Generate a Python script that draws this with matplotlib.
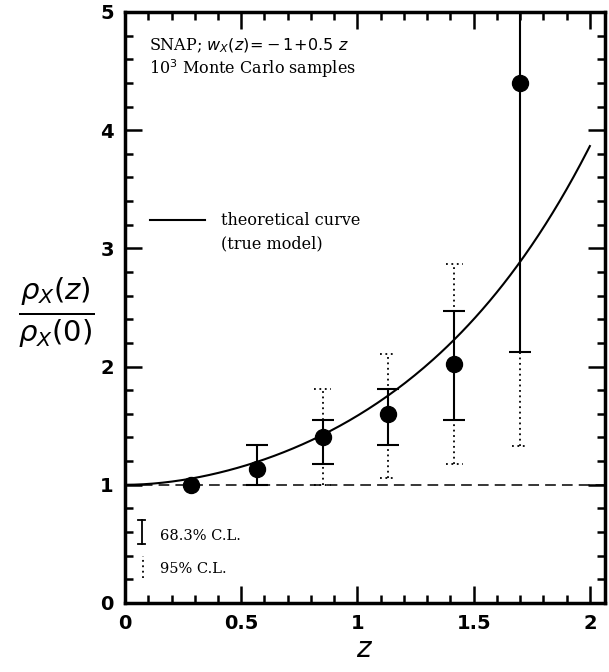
import numpy as np
import matplotlib
matplotlib.use("Agg")
import matplotlib.pyplot as plt
from matplotlib.ticker import MultipleLocator

# binned estimates of rho_X(z)/rho_X(0)
z_bins = [0.283, 0.567, 0.85, 1.133, 1.417, 1.70]
rho = [1.00, 1.13, 1.40, 1.60, 2.02, 4.40]
lo68 = [np.nan, 1.00, 1.18, 1.34, 1.55, 2.12]
hi68 = [np.nan, 1.34, 1.55, 1.81, 2.47, 5.60]
lo95 = [np.nan, np.nan, 1.00, 1.06, 1.18, 1.33]
hi95 = [np.nan, np.nan, 1.81, 2.11, 2.87, 5.80]

# true model: w_X(z) = w0 + w1 z
w0, w1 = -1.0, 0.5


def rho_true(z):
    return (1 + z) ** (3 * (1 + w0 - w1)) * np.exp(3 * w1 * z)


plt.rcParams['font.family'] = ['DejaVu Serif']
plt.rcParams['mathtext.fontset'] = 'dejavusans'

fig = plt.figure(figsize=(6.09, 6.72), dpi=100)
ax = fig.add_axes([0.2053, 0.1027, 0.7881, 0.8795])

zz = np.linspace(0, 2, 200)
ax.plot(zz, rho_true(zz), color='black', lw=1.5)
ax.axhline(1.0, color='black', lw=1.1, ls=(0, (7, 4)))

# 95% bars, dotted, with dotted caps
cw = 0.035
for x, a, b in zip(z_bins, lo95, hi95):
    if np.isnan(a):
        continue
    ax.vlines(x, a, b, colors='black', lw=1.3, linestyles=(0, (1, 2)))
    ax.hlines([a, b], x - cw, x + cw, colors='black', lw=1.3, linestyles=(0, (1, 2)))

# 68% bars
z = np.array(z_bins)
r = np.array(rho)
yerr = np.array([r - np.array(lo68), np.array(hi68) - r])
ax.errorbar(z, r, yerr=yerr, fmt='none', ecolor='black', elinewidth=1.5,
            capsize=8, capthick=1.5)
ax.plot(z, r, 'o', color='black', ms=11.5, zorder=5)

ax.set_xlim(0, 2.065)
ax.set_ylim(0, 5)
ax.xaxis.set_major_locator(MultipleLocator(0.5))
ax.xaxis.set_minor_locator(MultipleLocator(0.1))
ax.yaxis.set_major_locator(MultipleLocator(1))
ax.yaxis.set_minor_locator(MultipleLocator(0.2))
ax.set_xticks([0, 0.5, 1, 1.5, 2])
ax.set_xticklabels(['0', '0.5', '1', '1.5', '2'])
ax.tick_params(which='both', direction='in', top=True, right=True, width=1.8)
ax.tick_params(which='major', length=12, pad=8)
ax.tick_params(which='minor', length=6)
for lab in ax.get_xticklabels() + ax.get_yticklabels():
    lab.set_fontfamily('DejaVu Sans')
    lab.set_fontweight('bold')
    lab.set_fontsize(14)
for s in ax.spines.values():
    s.set_linewidth(2.5)

ax.set_xlabel(r'$z$', fontsize=20, labelpad=2)
fig.text(0.093, 0.535, r'$\frac{\rho_X(z)}{\rho_X(0)}$', fontsize=30,
         ha='center', va='center')

# annotations
ax.text(0.05, 0.943, r'SNAP; $w_X(z)\!=\!-1\!+\!0.5\ z$', transform=ax.transAxes,
        fontsize=11.5, va='center')
ax.text(0.05, 0.904, r'10$^3$ Monte Carlo samples', transform=ax.transAxes,
        fontsize=11.5, va='center')

ax.plot([0.052, 0.167], [0.648, 0.648], transform=ax.transAxes, color='black', lw=1.5)
ax.text(0.199, 0.648, 'theoretical curve', transform=ax.transAxes, fontsize=11.5, va='center')
ax.text(0.199, 0.607, '(true model)', transform=ax.transAxes, fontsize=11.5, va='center')

ax.plot([0.035, 0.035], [0.10, 0.14], transform=ax.transAxes, color='black', lw=1.3)
ax.plot([0.028, 0.042], [0.14, 0.14], transform=ax.transAxes, color='black', lw=1.3)
ax.plot([0.028, 0.042], [0.10, 0.10], transform=ax.transAxes, color='black', lw=1.3)
ax.plot([0.037, 0.037], [0.042, 0.080], transform=ax.transAxes, color='black', lw=1.3,
        ls=(0, (1, 2)))
ax.text(0.073, 0.114, '68.3% C.L.', transform=ax.transAxes, fontsize=10.5, va='center')
ax.text(0.073, 0.058, '95% C.L.', transform=ax.transAxes, fontsize=10.5, va='center')

fig.savefig('out.png', dpi=100)
